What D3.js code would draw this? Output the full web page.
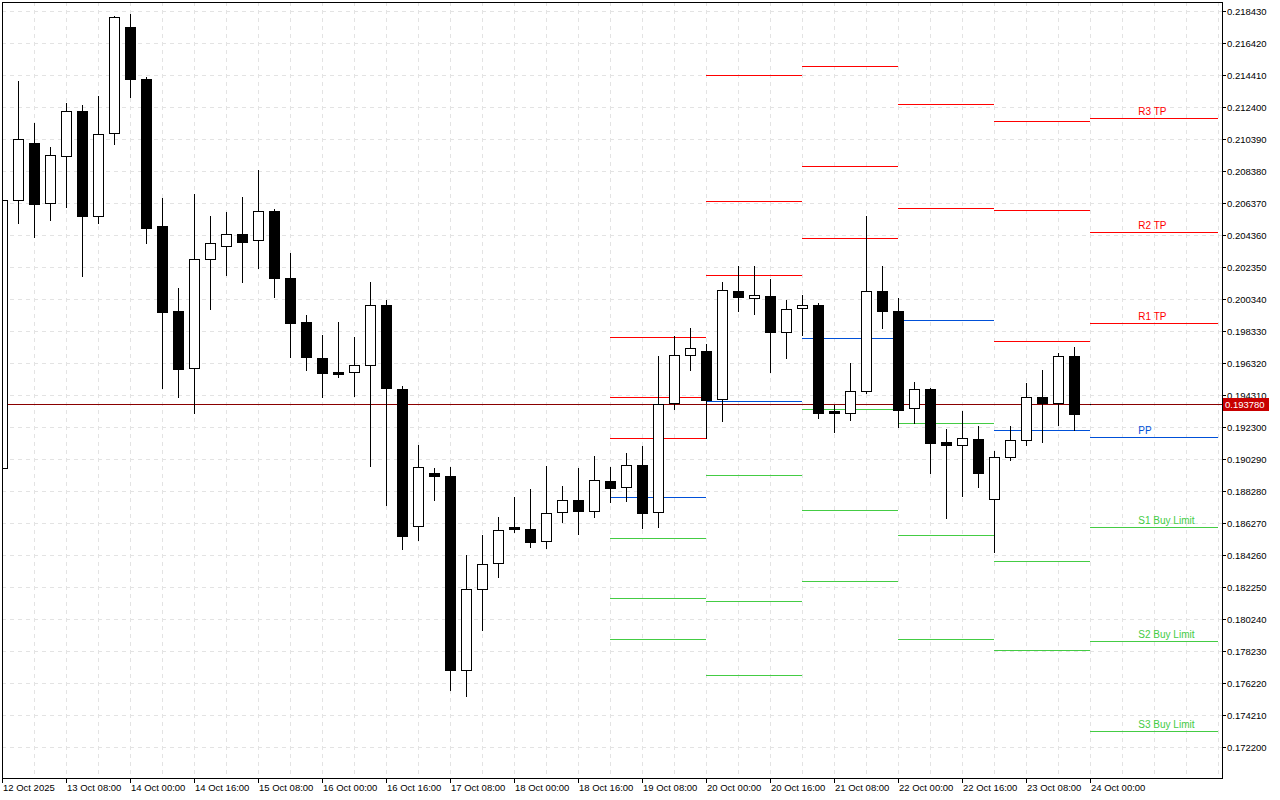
<!DOCTYPE html>
<html><head><meta charset="utf-8">
<script src="https://cdn.jsdelivr.net/npm/d3@7"></script>
<style>
html,body{margin:0;padding:0;background:#fff;}
svg{display:block;}
text{font-family:"Liberation Sans",Arial,sans-serif;}
</style></head>
<body>
<svg id="chart" width="1280" height="800"></svg>
<script>
// ---- data (4H candles, first bar 12 Oct 2025 16:00) ----
const opens  = [0.189726,0.206560,0.210141,0.206372,0.209324,0.212151,0.205593,0.210769,0.217427,0.214161,
  0.204928,0.199588,0.196008,0.202855,0.203690,0.204444,0.204067,0.205889,0.201680,0.198916,
  0.196655,0.195776,0.195776,0.196215,0.199984,0.194708,0.186103,0.189432,0.189243,0.177058,
  0.182145,0.183779,0.186040,0.185914,0.185160,0.186982,0.187736,0.187045,0.188910,0.188533,
  0.189915,0.186963,0.193810,0.196825,0.197095,0.194099,0.200864,0.200424,0.200549,0.198288,
  0.199796,0.199984,0.193326,0.193201,0.194582,0.200864,0.199607,0.193495,0.194708,0.191360,
  0.191172,0.191548,0.187780,0.190418,0.191486,0.194186,0.193810,0.196762,0.193780];
const highs  = [0.206894,0.214054,0.211416,0.209909,0.212672,0.212547,0.213112,0.218156,0.218263,0.214287,
  0.206686,0.201033,0.206956,0.205574,0.205826,0.206768,0.208464,0.206014,0.203250,0.199356,
  0.198100,0.198916,0.197974,0.201429,0.200298,0.194896,0.191190,0.189746,0.189809,0.184281,
  0.185537,0.186668,0.187924,0.188427,0.189871,0.188615,0.189746,0.190499,0.189809,0.190669,
  0.191128,0.196781,0.198037,0.198539,0.197535,0.201429,0.202434,0.202434,0.201617,0.200298,
  0.200612,0.200110,0.193703,0.196341,0.205574,0.202434,0.200443,0.195148,0.194790,0.192195,
  0.193326,0.192384,0.190814,0.192384,0.195066,0.195901,0.196969,0.197346,0.193780];
const lows   = [0.189306,0.205154,0.204274,0.205342,0.206159,0.201825,0.205154,0.210116,0.213068,0.203897,
  0.194790,0.194224,0.193219,0.199752,0.201869,0.201429,0.202308,0.200487,0.196718,0.195901,
  0.194205,0.195462,0.194268,0.189871,0.187422,0.184658,0.185223,0.187736,0.175801,0.175425,
  0.179570,0.182899,0.185726,0.184784,0.184721,0.186354,0.185600,0.186668,0.187629,0.187692,
  0.185977,0.186040,0.193471,0.195920,0.191630,0.192717,0.199607,0.199419,0.195776,0.196655,
  0.198100,0.192886,0.192007,0.192761,0.194457,0.198539,0.192340,0.192591,0.189450,0.186605,
  0.187987,0.188533,0.184488,0.190267,0.191209,0.191379,0.192465,0.192114,0.193780];
const closes = [0.206560,0.210392,0.206347,0.209387,0.212151,0.205593,0.210706,0.218055,0.214199,0.204840,
  0.199563,0.195983,0.202855,0.203860,0.204444,0.203941,0.205889,0.201680,0.198854,0.196718,
  0.195713,0.195650,0.196215,0.199984,0.194771,0.185474,0.189809,0.189243,0.177058,0.182145,
  0.183716,0.185851,0.185914,0.185098,0.186919,0.187736,0.187045,0.188992,0.188508,0.189915,
  0.186938,0.193747,0.196844,0.197264,0.194036,0.200926,0.200487,0.200612,0.198288,0.199733,
  0.199984,0.193201,0.193201,0.194582,0.200864,0.199607,0.193408,0.194708,0.191335,0.191172,
  0.191611,0.189413,0.190418,0.191486,0.194186,0.193810,0.196762,0.193157,0.193780];

// daily pivot levels (start bar index of each day, end bar index)
const pivotDayStart = [38, 44, 50, 56, 62, 68];
const pivotDayEnd   = [44, 50, 56, 62, 68, 76];
const pivotR3 = [0.197974,0.214431,0.214996,0.219645,0.211523,0.211711];
const pivotR2 = [0.194205,0.206517,0.208696,0.212591,0.205933,0.204551];
const pivotR1 = [0.191630,0.201869,0.204174,0.206077,0.197704,0.198835];
const pivotPP = [0.187924,0.193954,0.197892,0.199023,0.192114,0.191674];
const pivotS1 = [0.185349,0.189306,0.193433,0.192553,0.183885,0.186040];
const pivotS2 = [0.181580,0.181392,0.187089,0.185519,0.178295,0.178879];
const pivotS3 = [0.179005,0.176744,0.182648,0.178986,0.170085,0.173226];
const levelNames  = ["R3 TP","R2 TP","R1 TP","PP","S1 Buy Limit","S2 Buy Limit","S3 Buy Limit"];

const priceTicks = [0.218430,0.216420,0.214410,0.212400,0.210390,0.208380,0.206370,0.204360,0.202350,
  0.200340,0.198330,0.196320,0.194310,0.192300,0.190290,0.188280,0.186270,0.184260,0.182250,
  0.180240,0.178230,0.176220,0.174210,0.172200];
const timeTickIndex = [0,4,8,12,16,20,24,28,32,36,40,44,48,52,56,60,64,68];
const timeTickLabels = ["12 Oct 2025","13 Oct 08:00","14 Oct 00:00","14 Oct 16:00","15 Oct 08:00",
  "16 Oct 00:00","16 Oct 16:00","17 Oct 08:00","18 Oct 00:00","18 Oct 16:00","19 Oct 08:00",
  "20 Oct 00:00","20 Oct 16:00","21 Oct 08:00","22 Oct 00:00","22 Oct 16:00","23 Oct 08:00","24 Oct 00:00"];
const lastPrice = 0.193780;

// ---- layout ----
const L = 2, T = 2, R = 1222, B = 778;
const svg = d3.select("#chart");
const x = d3.scaleLinear().domain([0, 76]).range([2.33, 1218.33]);
const y = d3.scaleLinear().domain([0.218430, 0.172200]).range([11.33, 747.33]);

svg.append("defs").append("clipPath").attr("id","clip")
  .append("rect").attr("x",L).attr("y",T).attr("width",R-L).attr("height",B-T);

const plot = svg.append("g").attr("clip-path","url(#clip)");

// grid
const gridColor = "#e3e3e3";
const vIdx = d3.range(2, 77, 2);
plot.append("g").selectAll("line").data(vIdx).join("line")
  .attr("x1", d => Math.round(x(d)) + 0.5).attr("x2", d => Math.round(x(d)) + 0.5)
  .attr("y1", T).attr("y2", B)
  .attr("stroke", gridColor).attr("stroke-dasharray","4,4").attr("shape-rendering","crispEdges");
plot.append("g").selectAll("line").data(priceTicks).join("line")
  .attr("x1", L).attr("x2", R)
  .attr("y1", d => Math.round(y(d)) + 0.5).attr("y2", d => Math.round(y(d)) + 0.5)
  .attr("stroke", gridColor).attr("stroke-dasharray","4,4").attr("shape-rendering","crispEdges");

// pivot lines
const levelArrays = [pivotR3,pivotR2,pivotR1,pivotPP,pivotS1,pivotS2,pivotS3];
const levelColors = ["#ff0000","#ff0000","#ff0000","#0050d8","#44cc44","#44cc44","#44cc44"];
const segs = [];
levelArrays.forEach((arr, li) => arr.forEach((v, di) => segs.push({v, li, di})));
plot.append("g").selectAll("line").data(segs).join("line")
  .attr("x1", d => Math.round(x(pivotDayStart[d.di])))
  .attr("x2", d => Math.round(x(pivotDayEnd[d.di])))
  .attr("y1", d => Math.round(y(d.v)) + 0.5).attr("y2", d => Math.round(y(d.v)) + 0.5)
  .attr("stroke", d => levelColors[d.li]).attr("stroke-width", 1).attr("shape-rendering","crispEdges");

// labels on last day
const lastDay = pivotDayStart.length - 1;
plot.append("g").selectAll("text").data(levelArrays.map((a,i)=>({v:a[lastDay], i}))).join("text")
  .attr("x", x(71)).attr("y", d => Math.round(y(d.v)) - 3)
  .attr("fill", d => levelColors[d.i]).attr("font-size", "10px")
  .text(d => levelNames[d.i]);

// last price line
plot.append("line").attr("x1", L).attr("x2", R)
  .attr("y1", Math.round(y(lastPrice)) + 0.5).attr("y2", Math.round(y(lastPrice)) + 0.5)
  .attr("stroke", "#8a0000").attr("stroke-width", 1).attr("shape-rendering","crispEdges");

// candles
const candles = opens.map((o, i) => ({i, o, h: highs[i], l: lows[i], c: closes[i]}));
const cg = plot.append("g");
cg.selectAll("line.wick").data(candles).join("line").attr("class","wick")
  .attr("x1", d => Math.round(x(d.i)) + 0.5).attr("x2", d => Math.round(x(d.i)) + 0.5)
  .attr("y1", d => Math.round(y(d.h))).attr("y2", d => Math.round(y(d.l)) + 1)
  .attr("stroke", "#000").attr("stroke-width", 1).attr("shape-rendering","crispEdges");
cg.selectAll("rect.body").data(candles).join("rect").attr("class","body")
  .attr("x", d => Math.round(x(d.i)) - 4.5)
  .attr("width", 10)
  .attr("y", d => Math.round(y(Math.max(d.o, d.c))) + 0.5)
  .attr("height", d => Math.max(0, Math.round(y(Math.min(d.o, d.c))) - Math.round(y(Math.max(d.o, d.c)))))
  .attr("fill", d => d.c >= d.o ? "#fff" : "#000")
  .attr("stroke", "#000").attr("stroke-width", 1).attr("shape-rendering","crispEdges");

// frame
svg.append("rect").attr("x", L + 0.5).attr("y", T + 0.5).attr("width", R - L).attr("height", B - T)
  .attr("fill","none").attr("stroke","#000").attr("shape-rendering","crispEdges");

// price axis
const ya = svg.append("g");
ya.selectAll("line").data(priceTicks).join("line")
  .attr("x1", R).attr("x2", R + 4)
  .attr("y1", d => Math.round(y(d)) + 0.5).attr("y2", d => Math.round(y(d)) + 0.5)
  .attr("stroke","#000").attr("shape-rendering","crispEdges");
ya.selectAll("text").data(priceTicks).join("text")
  .attr("x", R + 5).attr("y", d => Math.round(y(d)) + 4)
  .attr("font-size","9.5px").attr("fill","#000")
  .text(d => d.toFixed(6));

// last price box
const ly = Math.round(y(lastPrice));
svg.append("rect").attr("x", R + 1).attr("y", ly - 6).attr("width", 46).attr("height", 13).attr("fill", "#c80000");
svg.append("text").attr("x", R + 3).attr("y", ly + 4).attr("font-size","9.5px").attr("fill","#fff")
  .text(lastPrice.toFixed(6));

// time axis
const xa = svg.append("g");
xa.selectAll("line").data(timeTickIndex).join("line")
  .attr("x1", d => Math.round(x(d)) + 0.5).attr("x2", d => Math.round(x(d)) + 0.5)
  .attr("y1", B).attr("y2", B + 5)
  .attr("stroke","#000").attr("shape-rendering","crispEdges");
xa.selectAll("text").data(timeTickIndex).join("text")
  .attr("x", d => Math.round(x(d)) + 1).attr("y", B + 13)
  .attr("font-size","9.5px").attr("fill","#000")
  .text((d, i) => timeTickLabels[i]);
</script>
</body></html>
